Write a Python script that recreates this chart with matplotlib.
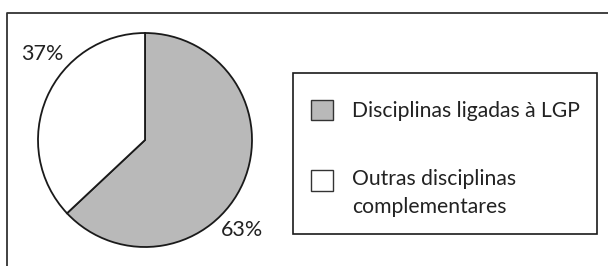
import matplotlib.pyplot as plt
from matplotlib.patches import Rectangle

# Dados
categorias = ['Disciplinas ligadas à LGP', 'Outras disciplinas\ncomplementares']
valores = [63, 37]
rotulos = ['63%', '37%']
cores = ['#b9b9b9', 'white']

plt.rcParams['font.family'] = ['Lato', 'DejaVu Sans']

W, H = 608, 266
fig = plt.figure(figsize=(W / 100, H / 100), dpi=100)
ax = fig.add_axes([0, 0, 1, 1])

# Pizza (coordenadas em pixels, y para cima)
cx, cy, r = 145, H - 140, 107
ax.pie(valores, colors=cores, startangle=90, counterclock=False,
       center=(cx, cy), radius=r,
       wedgeprops=dict(edgecolor='#1a1a1a', linewidth=1.3))

ax.set_xlim(0, W)
ax.set_ylim(0, H)
ax.set_aspect('auto')
ax.axis('off')

# Percentagens
ax.text(242, H - 236, rotulos[0], fontsize=15.5, ha='center', va='baseline', color='#222222')
ax.text(42, H - 60, rotulos[1], fontsize=15.5, ha='center', va='baseline', color='#222222')

# Moldura exterior
ax.plot([7, 7, W], [0, H - 13, H - 13], color='#333333', lw=1.3, clip_on=False)

# Legenda
ax.add_patch(Rectangle((293, H - 234), 304, 161, fill=False, edgecolor='#1a1a1a', lw=1.2))
ax.add_patch(Rectangle((311, H - 120), 22, 20, facecolor=cores[0], edgecolor='#333333', lw=1.0))
ax.add_patch(Rectangle((311, H - 191), 22, 21, facecolor=cores[1], edgecolor='#333333', lw=1.0))
ax.text(352, H - 117, categorias[0], fontsize=15.2, va='baseline', color='#222222')
linhas = categorias[1].split('\n')
ax.text(352, H - 185, linhas[0], fontsize=15.2, va='baseline', color='#222222')
ax.text(352, H - 213, linhas[1], fontsize=15.2, va='baseline', color='#222222')

fig.savefig('out.png', dpi=100)
